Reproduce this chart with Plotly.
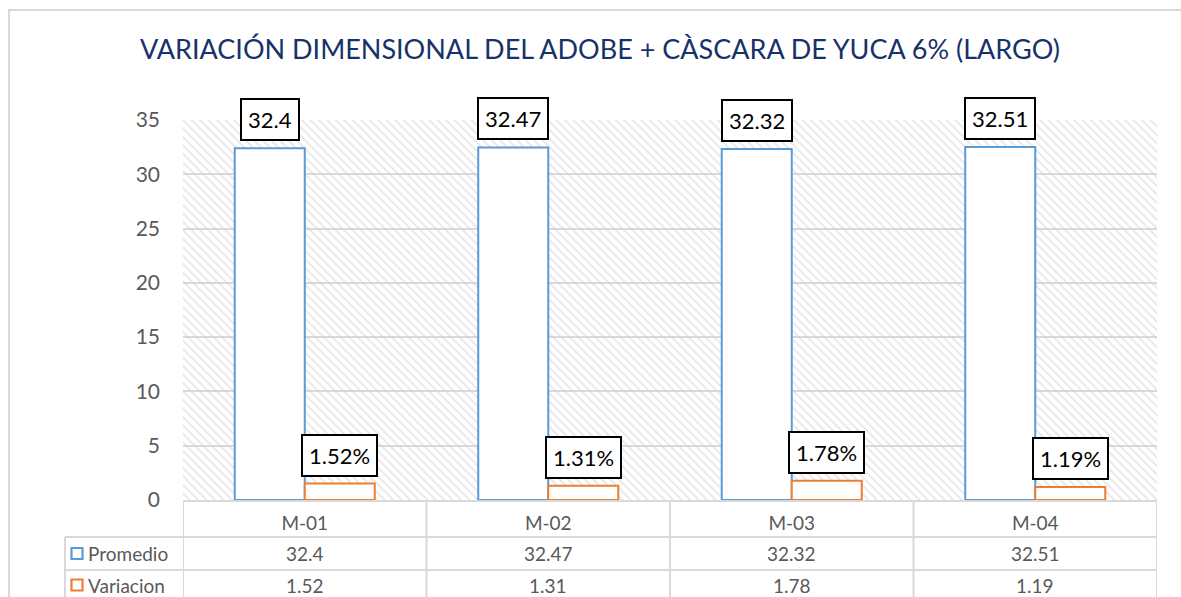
import plotly.graph_objects as go

categories = ["M-01", "M-02", "M-03", "M-04"]
promedio = [32.4, 32.47, 32.32, 32.51]
variacion = [1.52, 1.31, 1.78, 1.19]
promedio_labels = ["32.4", "32.47", "32.32", "32.51"]
variacion_labels = ["1.52%", "1.31%", "1.78%", "1.19%"]
table_promedio = ["32.4", "32.47", "32.32", "32.51"]
table_variacion = ["1.52", "1.31", "1.78", "1.19"]
y_max = 35
title_text = "VARIACIÓN DIMENSIONAL DEL ADOBE + CÀSCARA DE YUCA 6% (LARGO)"

BLUE = "#5B9BD5"
ORANGE = "#ED7D31"
GRID = "#D9D9D9"
TXT = "#595959"
FONT = "Lato"

W, H = 1181, 597
ML, MR, MT, MB = 183, 24, 120, 97
plot_h = H - MT - MB
plot_w = W - ML - MR

bw = 0.2875  # bar width in category units

fig = go.Figure()

# hatched plot-area background
fig.add_trace(go.Bar(
    x=categories, y=[y_max] * len(categories), width=1, offset=-0.5,
    marker=dict(color="rgba(0,0,0,0)", line=dict(width=0),
                pattern=dict(shape="\\", fgcolor="#CDCDCD", size=6, solidity=0.3)),
    hoverinfo="skip", showlegend=False))

fig.add_trace(go.Bar(
    x=categories, y=promedio, width=bw, offset=-bw, name="Promedio",
    marker=dict(color="white", line=dict(color=BLUE, width=2)),
    showlegend=False))
fig.add_trace(go.Bar(
    x=categories, y=variacion, width=bw, offset=0, name="Variacion",
    marker=dict(color="white", line=dict(color=ORANGE, width=2)),
    showlegend=False))

ann = []
for i, c in enumerate(categories):
    ann.append(dict(x=i - bw / 2, y=promedio[i], xref="x", yref="y", text=promedio_labels[i],
                    showarrow=False, yanchor="bottom", yshift=7,
                    font=dict(family=FONT, size=22, color="black"),
                    bgcolor="white", bordercolor="black", borderwidth=2, borderpad=6))
    ann.append(dict(x=i + bw / 2, y=variacion[i], xref="x", yref="y", text=variacion_labels[i],
                    showarrow=False, yanchor="bottom", yshift=7,
                    font=dict(family=FONT, size=22, color="black"),
                    bgcolor="white", bordercolor="black", borderwidth=2, borderpad=6))

# data table rows (paper y in plot-height units)
def py(px):
    return (H - MB - px) / plot_h

def pxp(px):
    return (px - ML) / plot_w

row1_y = py(553.5)
row2_y = py(585)
shapes = []
for i, c in enumerate(categories):
    ann.append(dict(x=i, y=row1_y, xref="x", yref="paper", text=table_promedio[i], showarrow=False,
                    yanchor="middle", font=dict(family=FONT, size=19, color=TXT)))
    ann.append(dict(x=i, y=row2_y, xref="x", yref="paper", text=table_variacion[i], showarrow=False,
                    yanchor="middle", font=dict(family=FONT, size=19, color=TXT)))
for yy, name, col in ((row1_y, "Promedio", BLUE), (row2_y, "Variacion", ORANGE)):
    shapes.append(dict(type="rect", xref="paper", yref="paper", xsizemode="pixel", ysizemode="pixel",
                       xanchor=pxp(77), yanchor=yy, x0=-5.5, x1=5.5, y0=-5.5, y1=5.5,
                       line=dict(color=col, width=2.2), fillcolor="white"))
    ann.append(dict(x=pxp(86), y=yy, xref="paper", yref="paper", xanchor="left", yanchor="middle",
                    showarrow=False, text=name,
                    font=dict(family=FONT, size=19, color=TXT)))

line = dict(color=GRID, width=2)
bottom = py(610)
for k in range(len(categories) + 1):
    shapes.append(dict(type="line", xref="x", yref="paper", x0=k - 0.5, x1=k - 0.5,
                       y0=0, y1=bottom, line=line, layer="above"))
shapes.append(dict(type="line", xref="paper", yref="paper", x0=pxp(65), x1=pxp(65),
                   y0=py(537), y1=bottom, line=line))
for yy in (537, 570):
    shapes.append(dict(type="line", xref="paper", yref="paper", x0=pxp(65), x1=1,
                       y0=py(yy), y1=py(yy), line=line))
# outer chart border
shapes.append(dict(type="rect", xref="paper", yref="paper", x0=pxp(9), x1=pxp(1200),
                   y0=py(620), y1=py(10), line=dict(color=GRID, width=2)))

fig.update_layout(
    width=W, height=H,
    margin=dict(l=ML, r=MR, t=MT, b=MB),
    paper_bgcolor="white", plot_bgcolor="white",
    barmode="overlay",
    title=dict(text=title_text, x=600 / W, xanchor="center", y=1 - 50 / H, yanchor="middle",
               yref="container", font=dict(family=FONT, size=27, color="#17326A")),
    xaxis=dict(type="category", range=[-0.5, len(categories) - 0.5], showgrid=False,
               showline=True, linecolor=GRID, linewidth=2, ticks="",
               tickfont=dict(family=FONT, size=19, color=TXT), ticklabelstandoff=5),
    yaxis=dict(range=[0, y_max], dtick=5, showgrid=True, gridcolor=GRID, gridwidth=2,
               zeroline=False, showline=False, ticks="",
               tickfont=dict(family=FONT, size=21, color=TXT), ticklabelstandoff=22),
    annotations=ann, shapes=shapes,
    hovermode=False,
)

fig.write_html("out.html", config={"displayModeBar": False},
               post_script="document.body.style.margin='0';document.body.style.overflow='hidden';")
